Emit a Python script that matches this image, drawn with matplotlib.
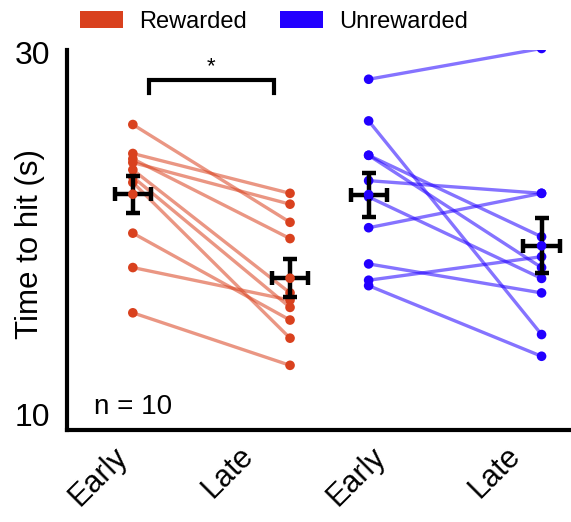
import matplotlib
matplotlib.use("Agg")
import matplotlib.pyplot as plt
from matplotlib.patches import Patch
import numpy as np

plt.rcParams['font.family'] = ['Liberation Sans', 'DejaVu Sans']

# Data
rewarded_early = [26.0, 24.4, 24.1, 23.9, 23.5, 23.1, 22.8, 20.0, 18.1, 15.6]
rewarded_late = [20.6, 22.2, 19.7, 21.6, 16.7, 15.9, 14.2, 15.2, 16.3, 12.7]
unrewarded_early = [28.5, 26.2, 24.3, 24.3, 22.9, 22.0, 20.3, 18.3, 17.4, 17.1]
unrewarded_late = [30.2, 14.4, 19.8, 18.1, 22.2, 17.5, 22.2, 16.7, 18.7, 13.2]

tick_labels = ["Early", "Late", "Early", "Late"]
legend_labels = ["Rewarded", "Unrewarded"]

red = '#d9411e'
blue = '#2200ff'

col_x = [0.0, 1.0, 1.5, 2.6]
tick_x = [-0.13, 0.67, 1.51, 2.37]

fig = plt.figure(figsize=(5.71, 5.22), dpi=100)
ax = fig.add_axes([0.117, 0.176, 0.881, 0.728])

def draw_group(early, late, x0, x1, color):
    e = np.array(early); l = np.array(late)
    for a, b in zip(e, l):
        ax.plot([x0, x1], [a, b], color=color, alpha=0.55, lw=2.4, zorder=2,
                solid_capstyle='round')
    ax.scatter(np.full(len(e), x0), e, s=48, color=color, zorder=3, edgecolors='none')
    ax.scatter(np.full(len(l), x1), l, s=48, color=color, zorder=3, edgecolors='none')
    for x, vals in ((x0, e), (x1, l)):
        m = vals.mean()
        sem = vals.std(ddof=1) / np.sqrt(len(vals))
        ax.errorbar([x], [m], yerr=[sem], xerr=[0.115], fmt='none', ecolor='black',
                    elinewidth=3.2, capsize=5, capthick=3.2, zorder=4)
        ax.scatter([x], [m], s=48, color=color, zorder=5, edgecolors='none')

draw_group(rewarded_early, rewarded_late, col_x[0], col_x[1], red)
draw_group(unrewarded_early, unrewarded_late, col_x[2], col_x[3], blue)

# significance bracket
ax.plot([0.1, 0.1, 0.9, 0.9], [27.75, 28.45, 28.45, 27.75], color='black', lw=3,
        solid_joinstyle='miter', zorder=4)
ax.text(0.5, 29.2, '*', ha='center', va='center', fontsize=16)

ax.text(-0.25, 10.4, 'n = 10', ha='left', va='center', fontsize=20)

ax.set_xlim(-0.42, 2.78)
ax.set_ylim(9.12, 30.11)
ax.set_yticks([10, 30])
ax.set_yticklabels(['10', '30'], fontsize=23)
ax.set_xticks(tick_x)
ax.set_xticklabels(tick_labels, fontsize=22, rotation=45, ha='right',
                   rotation_mode='anchor')
ax.tick_params(axis='y', length=0, pad=12)
ax.tick_params(axis='x', length=0, pad=8)
ax.set_ylabel('Time to hit (s)', fontsize=22.5)
ax.yaxis.set_label_coords(-0.044, 0.49)

for s in ['top', 'right']:
    ax.spines[s].set_visible(False)
for s in ['left', 'bottom']:
    ax.spines[s].set_linewidth(3)

handles = [Patch(facecolor=red, edgecolor='none'), Patch(facecolor=blue, edgecolor='none')]
fig.legend(handles, legend_labels, loc='center', bbox_to_anchor=(0.48, 0.958), ncol=2,
           frameon=False, fontsize=17, handlelength=1.8, handleheight=0.75,
           handletextpad=0.7, columnspacing=1.4)

fig.savefig('out.png', dpi=100)
